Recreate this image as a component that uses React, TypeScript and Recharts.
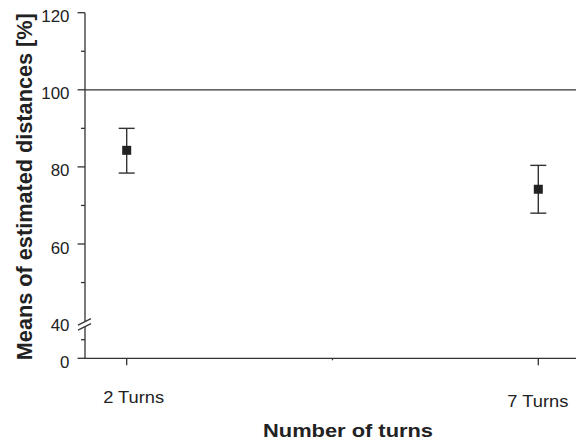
import { ScatterChart, Scatter, XAxis, YAxis, ErrorBar, ReferenceLine } from "recharts";

const categories = ["2 Turns", "7 Turns"];
const means = [84.3, 74.2];
const errLow = [5.9, 6.2];
const errHigh = [5.7, 6.2];

const yLabelTicks = [0, 40, 60, 80, 100, 120];
const yMinorTicks = [20, 50, 70, 90, 110];
const referenceValue = 100;

const FONT = '"Liberation Sans", Arial, Helvetica, sans-serif';
const INK = "#222";
const LINE = "#333";

// broken axis: 0..40 squeezed into a short segment below 40
const BREAK = 40;
const LOW_SPAN = 9.65;
const toAxis = (v: number) => (v >= BREAK ? v : BREAK - ((BREAK - v) / BREAK) * LOW_SPAN);

const data = categories.map((name, i) => ({
  name,
  x: i,
  y: toAxis(means[i]),
  err: [errLow[i], errHigh[i]],
}));

const yTicks = [...yLabelTicks, ...yMinorTicks].map(toAxis).sort((a, b) => a - b);
const labelFor = new Map(yLabelTicks.map((v) => [toAxis(v), String(v)]));

function YTick(props: any) {
  const { x, y, payload } = props;
  const label = labelFor.get(payload.value);
  const isBreak = payload.value === BREAK;
  return (
    <g>
      {label !== undefined && !isBreak && (
        <line x1={x - 7.5} x2={x} y1={y} y2={y} stroke={LINE} strokeWidth={1.3} />
      )}
      {label === undefined && (
        <line x1={x - 4} x2={x} y1={y} y2={y} stroke={LINE} strokeWidth={1.3} />
      )}
      {isBreak && (
        <g>
          <polygon points={`${x - 7},${y + 4} ${x + 6},${y - 2.5} ${x + 6},${y + 2.5} ${x - 7},${y + 9}`} fill="#fff" />
          <line x1={x - 7} y1={y + 4} x2={x + 6} y2={y - 2.5} stroke={LINE} strokeWidth={1.2} />
          <line x1={x - 7} y1={y + 9} x2={x + 6} y2={y + 2.5} stroke={LINE} strokeWidth={1.2} />
        </g>
      )}
      {label !== undefined && (
        <text
          x={x - 15.5}
          y={y + 9.6}
          textAnchor="end"
          fontSize={17}
          fontFamily={FONT}
          fill={INK}
          textLength={label.length * 9.4}
          lengthAdjust="spacingAndGlyphs"
        >
          {label}
        </text>
      )}
    </g>
  );
}

const labelNudge = [
  { dx: 7, dy: 44.7 },
  { dx: -0.5, dy: 48.7 },
];

function XTick(props: any) {
  const { x, y, payload } = props;
  const i = payload.value;
  if (!Number.isInteger(i)) {
    return <line x1={x} x2={x} y1={y} y2={y + 2} stroke={LINE} strokeWidth={1.2} />;
  }
  const n = labelNudge[i];
  return (
    <g>
      <line x1={x} x2={x} y1={y} y2={y + 7} stroke={LINE} strokeWidth={1.3} />
      <text
        x={x + n.dx}
        y={y + n.dy}
        textAnchor="middle"
        fontSize={17}
        fontFamily={FONT}
        fill={INK}
        textLength={61}
        lengthAdjust="spacingAndGlyphs"
      >
        {categories[i]}
      </text>
    </g>
  );
}

function SquareDot(props: any) {
  const { cx, cy } = props;
  return <rect x={cx - 4.5} y={cy - 4.5} width={9} height={9} fill={INK} />;
}

export default function App() {
  return (
    <div style={{ position: "absolute", left: 0, top: 0, width: 576, height: 440, background: "#fff" }}>
      <ScatterChart width={576} height={440} margin={{ top: 12.7, right: 0, bottom: 0, left: 0 }}>
        <XAxis
          type="number"
          dataKey="x"
          domain={[-0.1013, 1.0916]}
          ticks={[0, 0.5, 1]}
          allowDataOverflow
          height={81.7}
          tickSize={0}
          tickMargin={0}
          tickLine={false}
          axisLine={{ stroke: LINE, strokeWidth: 1.3 }}
          tick={<XTick />}
          interval={0}
          label={{
            content: () => (
              <text
                x={348}
                y={437.3}
                textAnchor="middle"
                fontSize={19}
                fontWeight="bold"
                fontFamily={FONT}
                fill={INK}
                textLength={170}
                lengthAdjust="spacingAndGlyphs"
              >
                Number of turns
              </text>
            ),
          }}
        />
        <YAxis
          type="number"
          dataKey="y"
          domain={[toAxis(0), 120]}
          ticks={yTicks}
          allowDataOverflow
          width={85}
          tickSize={0}
          tickMargin={0}
          tickLine={false}
          axisLine={{ stroke: LINE, strokeWidth: 1.3 }}
          tick={<YTick />}
          interval={0}
          label={{
            content: () => (
              <text
                x={31.7}
                y={186.7}
                transform="rotate(-90 31.7 186.7)"
                textAnchor="middle"
                fontSize={22}
                fontWeight="bold"
                fontFamily={FONT}
                fill={INK}
                textLength={347}
                lengthAdjust="spacingAndGlyphs"
              >
                Means of estimated distances [%]
              </text>
            ),
          }}
        />
        <ReferenceLine y={referenceValue} stroke={LINE} strokeWidth={1.3} />
        <Scatter data={data} shape={<SquareDot />} isAnimationActive={false}>
          <ErrorBar dataKey="err" direction="y" width={8} stroke={LINE} strokeWidth={1.4} />
        </Scatter>
      </ScatterChart>
    </div>
  );
}
